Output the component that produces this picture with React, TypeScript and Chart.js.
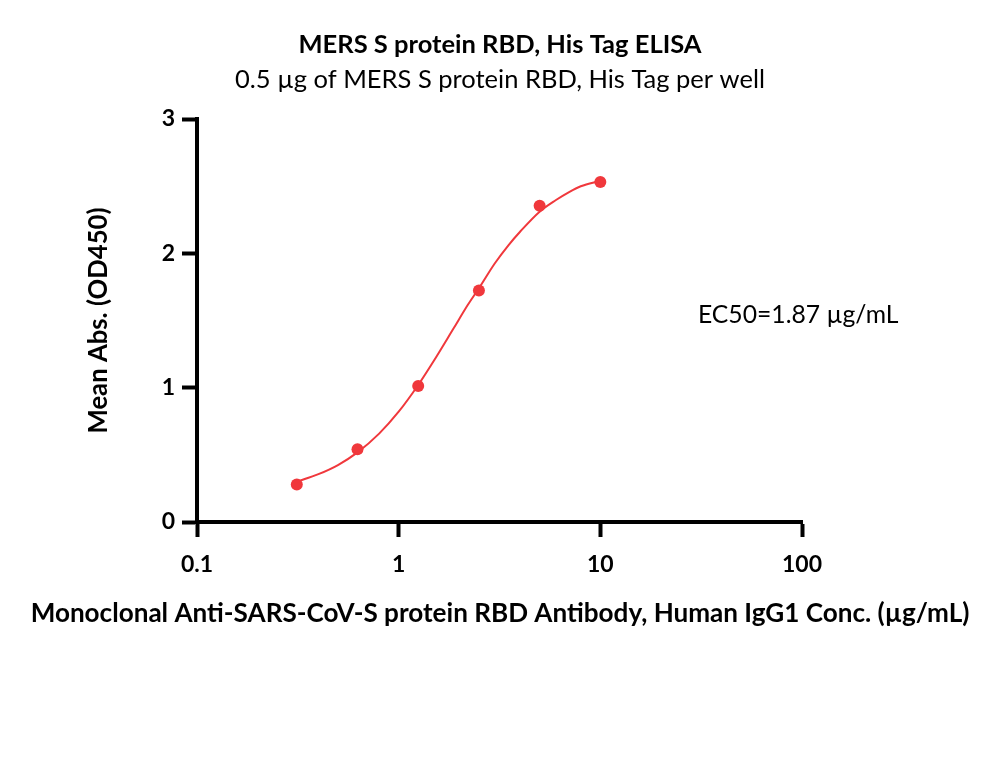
import React, { useEffect, useRef } from "react";
import { Chart, registerables } from "chart.js";

Chart.register(...registerables);

const chartTitle = "MERS S protein RBD, His Tag ELISA";
const chartSubtitle = "0.5 µg of MERS S protein RBD, His Tag per well";
const xAxisTitle = "Monoclonal Anti-SARS-CoV-S protein RBD Antibody, Human IgG1 Conc. (µg/mL)";
const yAxisTitle = "Mean Abs. (OD450)";
const ec50Label = "EC50=1.87 µg/mL";

// measured points
const concentrations = [0.3125, 0.625, 1.25, 2.5, 5, 10];
const meanAbs = [0.279, 0.542, 1.013, 1.724, 2.355, 2.531];

// fitted curve
const fitConc = [0.3125, 0.4, 0.5, 0.625, 0.8, 1.0, 1.25, 1.5, 1.87, 2.2, 2.5, 3.0, 3.5, 4.0, 5.0, 6.0, 7.0, 8.0, 10.0];
const fitAbs = [0.3, 0.356, 0.424, 0.518, 0.658, 0.821, 1.02, 1.204, 1.44, 1.615, 1.74, 1.926, 2.06, 2.161, 2.31, 2.395, 2.456, 2.499, 2.54];

const xTicks = [0.1, 1, 10, 100];
const yTicks = [0, 1, 2, 3];

const RED = "rgb(240, 56, 60)";
const FONT = "Lato";

export default function App() {
  const ref = useRef<HTMLCanvasElement | null>(null);

  useEffect(() => {
    if (!ref.current) return;
    const textPlugin = {
      id: "extraText",
      afterDraw(chart: any) {
        const { ctx, chartArea } = chart;
        ctx.save();
        ctx.fillStyle = "#000";
        ctx.textBaseline = "middle";
        ctx.font = `24.7px ${FONT}`;
        ctx.textAlign = "left";
        ctx.fillText(ec50Label, chartArea.left + 501, 315);
        ctx.font = `bold 26.1px ${FONT}`;
        ctx.textAlign = "center";
        ctx.fillText(xAxisTitle, 500, 614);
        ctx.restore();
      },
    };
    const chart = new Chart(ref.current, {
      type: "scatter",
      data: {
        datasets: [
          {
            type: "line",
            data: fitConc.map((x, i) => ({ x, y: fitAbs[i] })),
            borderColor: RED,
            borderWidth: 2,
            pointRadius: 0,
            cubicInterpolationMode: "monotone",
            fill: false,
          } as any,
          {
            type: "scatter",
            data: concentrations.map((x, i) => ({ x, y: meanAbs[i] })),
            backgroundColor: RED,
            borderColor: RED,
            pointRadius: 6,
            borderWidth: 0,
          },
        ],
      },
      options: {
        animation: false,
        responsive: true,
        maintainAspectRatio: false,
        layout: { padding: { left: 0, right: 0, top: 0, bottom: 136 } },
        plugins: {
          legend: { display: false },
          tooltip: { enabled: false },
          title: {
            display: true,
            text: chartTitle,
            color: "#000",
            font: { family: FONT, size: 25.5, weight: "bold", lineHeight: 1.2 },
            padding: { top: 29.5, bottom: 0 },
          },
          subtitle: {
            display: true,
            text: chartSubtitle,
            color: "#000",
            font: { family: FONT, size: 25.5, weight: "normal", lineHeight: 1.2 },
            padding: { top: 4.5, bottom: 23.8 },
          },
        },
        scales: {
          x: {
            type: "logarithmic",
            min: 0.1,
            max: 100,
            afterBuildTicks: (s: any) => {
              s.ticks = xTicks.map((v) => ({ value: v }));
            },
            afterFit: (s: any) => {
              s.height = 104;
            },
            ticks: {
              color: "#000",
              font: { family: FONT, size: 23, weight: "bold" },
              padding: 14,
              maxRotation: 0,
              autoSkip: false,
              callback: (v: any) => String(v),
            },
            grid: {
              display: true,
              drawOnChartArea: false,
              drawTicks: true,
              tickLength: 15,
              tickWidth: 4,
              tickColor: "#000",
            },
            border: { display: true, color: "#000", width: 4 },
            title: { display: false },
          },
          y: {
            type: "linear",
            min: 0,
            max: 3,
            afterBuildTicks: (s: any) => {
              s.ticks = yTicks.map((v) => ({ value: v }));
            },
            afterFit: (s: any) => {
              s.width = 197;
            },
            ticks: {
              color: "#000",
              font: { family: FONT, size: 23, weight: "bold" },
              padding: 7,
              callback: (v: any) => String(v),
            },
            grid: {
              display: true,
              drawOnChartArea: false,
              drawTicks: true,
              tickLength: 15,
              tickWidth: 4,
              tickColor: "#000",
            },
            border: { display: true, color: "#000", width: 4 },
            title: {
              display: true,
              text: yAxisTitle,
              color: "#000",
              font: { family: FONT, size: 25.7, weight: "bold", lineHeight: 1.2 },
              padding: { top: 83, bottom: 0 },
            },
          },
          yRight: {
            type: "linear",
            position: "right",
            display: true,
            afterFit: (s: any) => {
              s.width = 198;
            },
            ticks: { display: false },
            grid: { display: false, drawTicks: false },
            border: { display: false },
            title: { display: false },
          },
        },
      } as any,
      plugins: [textPlugin],
    });
    return () => chart.destroy();
  }, []);

  return (
    <div style={{ position: "absolute", left: 0, top: 0, width: 1000, height: 762, background: "#fff" }}>
      <canvas ref={ref} />
    </div>
  );
}
